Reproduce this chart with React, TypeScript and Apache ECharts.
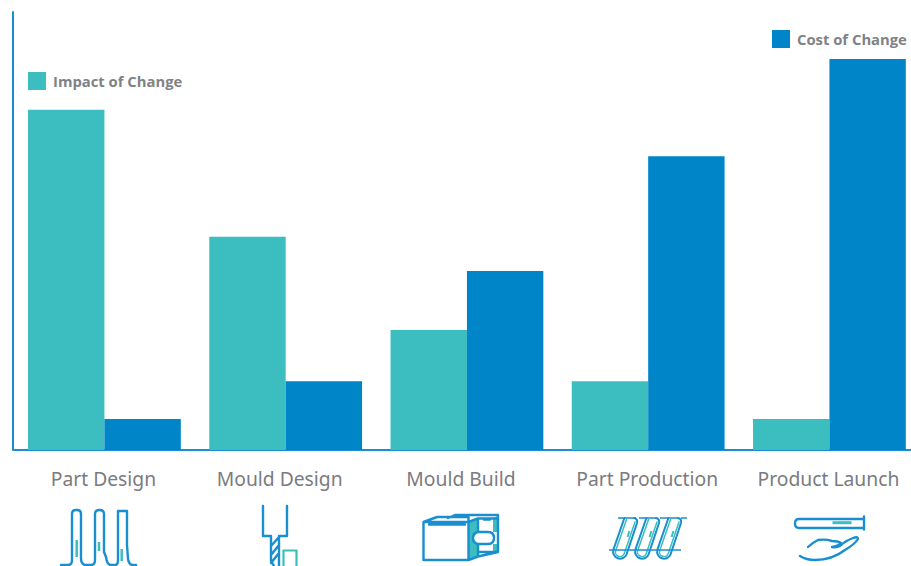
import React, { useEffect, useRef } from "react";
import * as echarts from "echarts";

const stages = ["Part Design", "Mould Design", "Mould Build", "Part Production", "Product Launch"];
const impactOfChange = [87, 54.5, 30.7, 17.6, 7.9];
const costOfChange = [7.9, 17.6, 45.8, 75.1, 100];

const TEAL = "#3CBDBF";
const BLUE = "#0085C8";
const LINE = "#1A8FD0";
const GREY = "#7A7B7F";
const LEGEND_GREY = "#808286";

// Process pictograms under each stage, in chart pixels.
const ICON_PATHS: Record<string, string> = {
  preforms:
    "M61 565H68Q72 565 72 560V514Q72 510 76 510H77Q81 510 81 514V558Q81 565 86 565H91Q95 565 95 560V514Q95 510 99.5 510Q104 510 104 514V552L106 557Q107 565 111 565H115Q118 565 118 560V511H127V545L128 559Q129 565 133 565H136",
  cutter:
    "M263 506V536H271V561L274 566M287 506V536H279V566M271 555L279 545M271 546L279 537M271 563L279 553",
  tool:
    "M423.5 522V560H468.5V522H423.5L437 517H468.5V522M429 524.5H465M468.5 560L478 556.5V545M468.5 522L478 518.5V532M448 518L455 515H498V552L478 556.5M478 518.5H498M484 519.5H490M478 556.5V552H498M479 532H488Q494 532 494 538Q494 544 488 544H479Q473 544 473 538Q473 532 479 532Z",
  tube:
    "M624.4 518L613.4 549.7A7 7 0 0 0 626.6 554.3L637 523Q638 519 634 518",
  tubeInner:
    "M626.7 519L615.7 550.5A4.5 4.5 0 0 0 624.3 553.5L635 522",
  syringe:
    "M864 516.5V529.5M864 519H799Q795 519 795 523.5Q795 528 799 528H864",
  hand:
    "M800 556Q806 560 815 560Q832 560 845 550Q855 544 858 539Q858 536 853 538Q845 541 840 546Q836 548 832 547Q838 546 841 543Q838 541 832 541Q826 539 818 540Q812 543 808 547",
};

const TUBE_STEPS = [0, 22, 44];

for (const name of Object.keys(ICON_PATHS)) {
  echarts.graphic.registerShape(name, echarts.graphic.extendPath(ICON_PATHS[name], {}));
}

const stroke = (color: string, lineWidth = 2.4) => ({ fill: "none", stroke: color, lineWidth, lineCap: "round", lineJoin: "round" });

const tealStroke = (points: number[][], lineWidth = 2.5) => ({
  type: "polyline",
  shape: { points },
  style: { fill: "none", stroke: TEAL, lineWidth },
});

const icons: any[] = [
  // preform tubes
  tealStroke([[76.7, 540], [76.7, 557]]),
  tealStroke([[99, 542], [99, 551]]),
  tealStroke([[121.7, 549], [121.7, 561]]),
  { type: "preforms", x: 0, y: 0, style: stroke(LINE) },
  // cutter above its slot
  { type: "polyline", shape: { points: [[283.5, 570], [283.5, 550.5], [296.5, 550.5], [296.5, 570]] }, style: { fill: "none", stroke: TEAL, lineWidth: 2.2 } },
  { type: "cutter", x: 0, y: 0, style: stroke(LINE) },
  // mould tool
  { type: "polygon", shape: { points: [[469, 522], [478, 519], [478, 532], [473, 538], [478, 545], [478, 556], [469, 559]] }, style: { fill: TEAL } },
  { type: "polygon", shape: { points: [[493, 518], [498, 516], [498, 532], [493, 532]] }, style: { fill: TEAL } },
  { type: "polygon", shape: { points: [[493, 544], [498, 544], [498, 552], [493, 553]] }, style: { fill: TEAL } },
  { type: "tool", x: 0, y: 0, style: stroke(LINE) },
  // moulded parts on rails
  { type: "line", shape: { x1: 618, y1: 518, x2: 687, y2: 518 }, style: { stroke: LINE, lineWidth: 1.5, lineDash: [18, 3] } },
  ...TUBE_STEPS.flatMap((dx) => [
    { type: "tube", x: dx, y: 0, style: stroke(LINE, 2) },
    { type: "tubeInner", x: dx, y: 0, style: stroke(TEAL, 1.5) },
    tealStroke([[627.6 + dx, 537], [629.4 + dx, 531]], 2),
  ]),
  { type: "line", shape: { x1: 609, y1: 550, x2: 681, y2: 550 }, style: { stroke: LINE, lineWidth: 1.5 } },
  // product held in a hand
  tealStroke([[832.5, 522.7], [851.5, 522.7]], 3),
  { type: "syringe", x: 0, y: 0, style: stroke(LINE) },
  { type: "hand", x: 0, y: 0, style: stroke(LINE) },
].map((el) => ({ ...el, silent: true }));

const legendText = { color: LEGEND_GREY, fontFamily: "Open Sans", fontWeight: 700, fontSize: 14.8, padding: [0, 0, 0, 2] };

const axisFont = { color: GREY, fontFamily: "Noto Sans", fontSize: 19.3 };

export default function App() {
  const ref = useRef<HTMLDivElement>(null);

  useEffect(() => {
    const chart = echarts.init(ref.current!, null, { renderer: "svg" });
    chart.setOption({
      animation: false,
      backgroundColor: "#ffffff",
      grid: { left: 13.8, top: 12, width: 906.25, height: 438 },
      legend: [
        { data: ["Impact of Change"], icon: "rect", left: 23, top: 67, itemWidth: 18, itemHeight: 18, textStyle: legendText },
        { data: ["Cost of Change"], icon: "rect", left: 767, top: 25, itemWidth: 18, itemHeight: 18, textStyle: legendText },
      ],
      xAxis: {
        type: "category",
        data: stages,
        axisLine: { lineStyle: { color: LINE, width: 2 } },
        axisTick: { show: false },
        axisLabel: {
          ...axisFont,
          margin: 19,
          interval: 0,
          hideOverlap: false,
          // The two "Mould" captions sit a little left of their bar pairs.
          formatter: (name: string) => (name.startsWith("Mould") ? `{left|${name}}` : `{plain|${name}}`),
          rich: {
            plain: { ...axisFont, padding: [0, 2, 0, 0] },
            left: { ...axisFont, padding: [0, 12, 0, 0] },
          },
        },
      },
      yAxis: {
        type: "value",
        min: 0,
        max: 112,
        offset: 1.3,
        splitLine: { show: false },
        axisTick: { show: false },
        axisLabel: { show: false },
        axisLine: { show: true, lineStyle: { color: LINE, width: 2 } },
      },
      series: [
        { name: "Impact of Change", type: "bar", data: impactOfChange, barGap: 0, barCategoryGap: "15.7%", itemStyle: { color: TEAL } },
        { name: "Cost of Change", type: "bar", data: costOfChange, barGap: 0, barCategoryGap: "15.7%", itemStyle: { color: BLUE } },
      ],
      graphic: { elements: icons },
    });
    return () => chart.dispose();
  }, []);

  // The drawing area runs slightly past the right edge of the frame and is cut off there.
  return (
    <div style={{ position: "fixed", left: 0, top: 0, width: 911, height: 566, overflow: "hidden" }}>
      <div ref={ref} style={{ width: 925, height: 566 }} />
    </div>
  );
}
